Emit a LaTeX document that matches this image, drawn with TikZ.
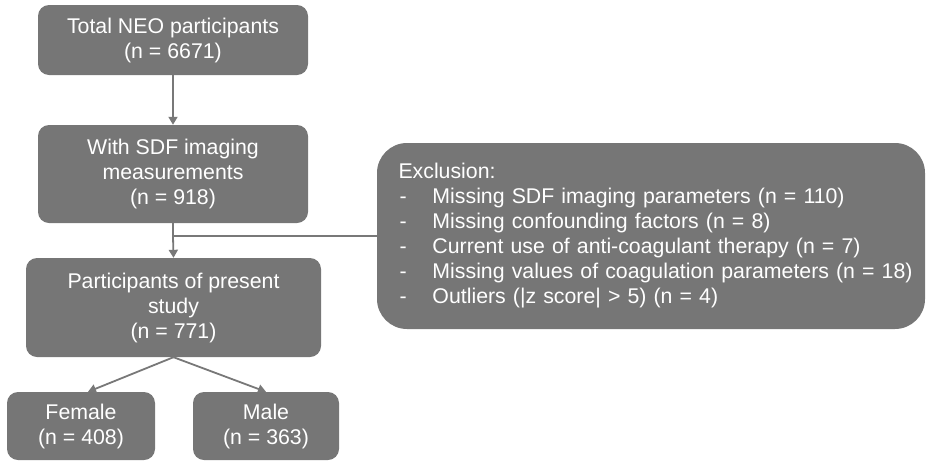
\documentclass[tikz,border=0pt]{standalone}
\usepackage{fontspec}
\setmainfont{Liberation Sans}
\usepackage{xcolor}
\usepackage{tikz}
\usetikzlibrary{arrows.meta, calc}
\definecolor{boxGray}{HTML}{767676}
\definecolor{lineGray}{HTML}{787878}

\begin{document}
\begin{tikzpicture}[x=1pt, y=-1pt,
    flowbox/.style={rectangle, rounded corners=11pt, fill=boxGray, text=white, align=center,
        inner sep=0pt, font=\fontsize{21.3}{25}\selectfont},
    link/.style={draw=lineGray, line width=1.8pt},
    arr/.style={link, -{Triangle[width=9pt, length=8pt]}}]
    \useasboundingbox (0,0) rectangle (926,461);

    \node[flowbox, minimum width=270pt, minimum height=70pt] (total) at (173,40)
        {Total NEO participants\\(n = 6671)};
    \node[flowbox, minimum width=270pt, minimum height=98pt] (sdf) at (173,174)
        {With SDF imaging\\measurements\\(n = 918)};
    \node[flowbox, minimum width=295pt, minimum height=99pt] (study) at (173.5,307.5)
        {Participants of present\\study\\(n = 771)};
    \node[flowbox, minimum width=148pt, minimum height=68pt] (female) at (81,426)
        {Female\\(n = 408)};
    \node[flowbox, minimum width=146pt, minimum height=68pt] (male) at (266,426)
        {Male\\(n = 363)};

    \node[flowbox, rounded corners=30pt, minimum width=548pt, minimum height=186pt,
        align=left, text width=527pt, inner xsep=0pt] (excl) at (651,236)
        {\hspace*{11pt}Exclusion:\\
         \makebox[45pt][l]{\hspace*{12pt}-}Missing SDF imaging parameters (n = 110)\\
         \makebox[45pt][l]{\hspace*{12pt}-}Missing confounding factors (n = 8)\\
         \makebox[45pt][l]{\hspace*{12pt}-}Current use of anti-coagulant therapy (n = 7)\\
         \makebox[45pt][l]{\hspace*{12pt}-}Missing values of coagulation parameters (n = 18)\\
         \makebox[45pt][l]{\hspace*{12pt}-}Outliers (|z score| > 5) (n = 4)};

    \coordinate (split) at (sdf.south |- excl.west);

    \draw[arr] (total) -- (sdf);
    \draw[link] (sdf.south) -- (split) -- (excl.west);
    \draw[arr] (split) -- (study.north);
    \draw[arr] (study.south) -- ([xshift=7pt]female.north);
    \draw[arr] (study.south) -- (male.north);
\end{tikzpicture}
\end{document}
